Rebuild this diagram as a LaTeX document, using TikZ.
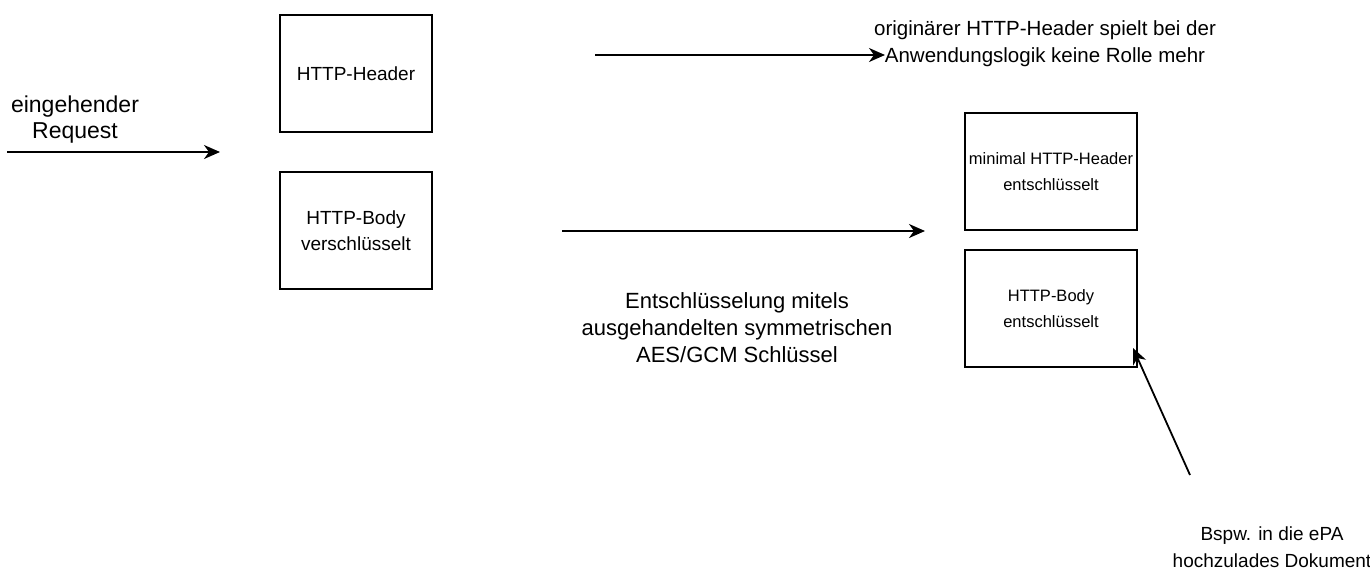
\documentclass[tikz,border=0pt]{standalone}
\usepackage{fontspec}
\setmainfont{Liberation Sans}
\usetikzlibrary{arrows.meta}
\tikzset{
  box/.style = {draw, line width=1.3pt, rectangle, minimum width=152, minimum height=117,
                align=center, inner sep=0, font=\fontsize{19}{26}\selectfont},
  widebox/.style = {box, minimum width=172, font=\fontsize{16.5}{26}\selectfont},
  label/.style = {align=center, inner sep=0, font=\fontsize{19}{27}\selectfont},
  pfeil/.style = {line width=1.8pt, -{Stealth[length=16pt,width=14pt,inset=5pt]}},
}
\begin{document}
\begin{tikzpicture}[x=1pt,y=-1pt]
\useasboundingbox (0,0) rectangle (1370,579);
\node[box] (hdr) at (356,73.5) {HTTP-Header};
\node[box] (body) at (356,230.5) {HTTP-Body\\verschlüsselt};
\node[widebox] (mhdr) at (1051,171.5) {minimal HTTP-Header\\entschlüsselt};
\node[widebox] (mbody) at (1051,308.5) {HTTP-Body\\entschlüsselt};
\node[label, font=\fontsize{23}{26}\selectfont] (rq) at (75,120) {eingehender\\Request};
\node[label, font=\fontsize{20.5}{27}\selectfont] (rolle) at (1045,44) {originärer HTTP-Header spielt bei der\\Anwendungslogik keine Rolle mehr};
\node[label, font=\fontsize{22}{27}\selectfont] (aes) at (737,328) {Entschlüsselung mitels\\ausgehandelten symmetrischen\\AES/GCM Schlüssel};
\node[label] (epa) at (1272,547) {Bspw. in die ePA\\hochzulades Dokument};
\coordinate (rq0) at (7,152);
\coordinate (rq1) at (220,152);
\coordinate (h0) at (595,55);
\coordinate (h1) at (885,55);
\coordinate (b0) at (562,231);
\coordinate (b1) at (925,231);
\coordinate (d0) at (1190,475);
\coordinate (d1) at (1133,348);
\draw[pfeil] (rq0) -- (rq1);
\draw[pfeil] (h0) -- (h1);
\draw[pfeil] (b0) -- (b1);
\draw[pfeil] (d0) -- (d1);
\end{tikzpicture}
\end{document}
